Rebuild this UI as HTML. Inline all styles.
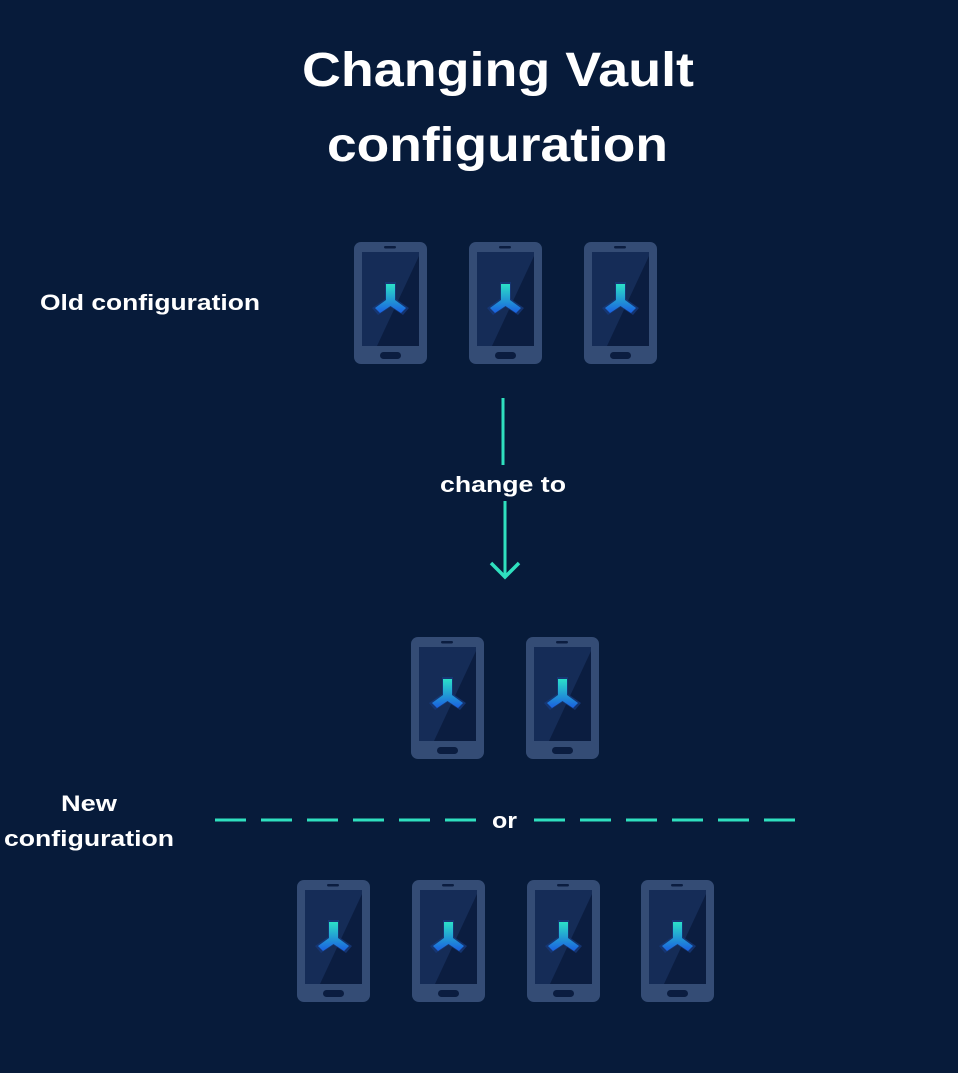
<!DOCTYPE html>
<html><head><meta charset="utf-8"><style>
html,body{margin:0;padding:0;background:#071b3a;}
body{width:958px;height:1073px;overflow:hidden;position:relative;font-family:"Liberation Sans",sans-serif;color:#fff;}
</style></head><body>
<svg width="958" height="1073" viewBox="0 0 958 1073" xmlns="http://www.w3.org/2000/svg" style="position:absolute;left:0;top:0">
<defs>
<linearGradient id="lg" x1="0" y1="0" x2="0" y2="1"><stop offset="0" stop-color="#2be0c8"/><stop offset="1" stop-color="#1a5fe0"/></linearGradient>
<g id="ph">
<rect x="0" y="0" width="73" height="122" rx="7" fill="#344c75"/>
<rect x="8" y="10" width="57" height="94" fill="#0b1d40"/>
<polygon points="8,10 65,10 65,14 23,104 8,104" fill="#152c57"/>
<rect x="30" y="4" width="12" height="2.5" rx="1.2" fill="#0b1d40"/>
<rect x="26" y="110" width="21" height="7" rx="3.5" fill="#0b1d40"/>
<path d="M31,40 L42,40 L42,57 L55,66 L49,73 L36.5,65 L24,73 L18,66 L31,57 Z" fill="#163a7a" opacity="0.8"/>
<path d="M32,42 L41,42 L41,58 L52,66 L47,71 L36.5,64 L26,71 L21,66 L32,58 Z" fill="url(#lg)"/>
</g>
</defs>
<g font-weight="bold" fill="#fff">
<text x="302" y="86" font-size="48" textLength="392" lengthAdjust="spacingAndGlyphs">Changing Vault</text>
<text x="327" y="161" font-size="48" textLength="341" lengthAdjust="spacingAndGlyphs">configuration</text>
<text x="40" y="310" font-size="22" textLength="220" lengthAdjust="spacingAndGlyphs">Old configuration</text>
<text x="440" y="492" font-size="22" textLength="126" lengthAdjust="spacingAndGlyphs">change to</text>
<text x="61" y="811" font-size="22" textLength="56" lengthAdjust="spacingAndGlyphs">New</text>
<text x="4" y="846" font-size="22" textLength="170" lengthAdjust="spacingAndGlyphs">configuration</text>
<text x="492" y="828" font-size="22" textLength="25" lengthAdjust="spacingAndGlyphs">or</text>
</g>
<use href="#ph" x="354" y="242"/><use href="#ph" x="469" y="242"/><use href="#ph" x="584" y="242"/>
<line x1="503" y1="398" x2="503" y2="465" stroke="#2fe0bf" stroke-width="3"/>
<line x1="505" y1="501" x2="505" y2="577" stroke="#2fe0bf" stroke-width="3"/>
<polyline points="491,563 505,577 519,563" fill="none" stroke="#2fe0bf" stroke-width="3.5"/>
<use href="#ph" x="411" y="637"/><use href="#ph" x="526" y="637"/>
<line x1="215" y1="820" x2="478" y2="820" stroke="#2fe0bf" stroke-width="3" stroke-dasharray="31,15"/>
<line x1="534" y1="820" x2="797" y2="820" stroke="#2fe0bf" stroke-width="3" stroke-dasharray="31,15"/>
<use href="#ph" x="297" y="880"/><use href="#ph" x="412" y="880"/><use href="#ph" x="527" y="880"/><use href="#ph" x="641" y="880"/>
</svg>
</body></html>
